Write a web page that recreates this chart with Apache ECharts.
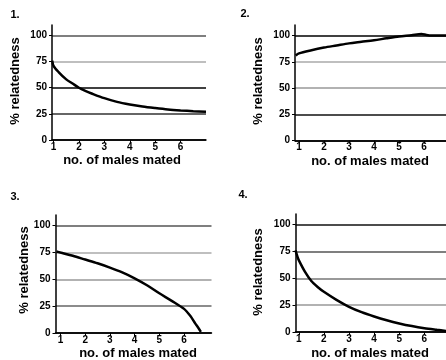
<!DOCTYPE html>
<html>
<head>
<meta charset="utf-8">
<script src="https://cdn.jsdelivr.net/npm/echarts@6/dist/echarts.min.js"></script>
<style>
  html, body { margin: 0; padding: 0; background: #fff; }
  #chart { width: 446px; height: 360px; }
</style>
</head>
<body>
<div id="chart"></div>
<script>
// tick labels
const xTicks = [1, 2, 3, 4, 5, 6];
const yTicks = [0, 25, 50, 75, 100];
const panelTitles = ['1.', '2.', '3.', '4.'];

// curve 1: falls towards 25
const curve1X = [0.95, 1.0, 1.2, 1.5, 1.75, 2, 2.25, 2.5, 3, 3.5, 4, 4.5, 5, 5.5, 6, 6.5, 7];
const curve1Y = [76, 71, 65, 58, 54, 50, 47, 44.5, 40, 36.5, 34, 32, 30.5, 29.2, 28.3, 27.6, 27];
// curve 2: rises to 100
const curve2X = [0.87, 1, 1.5, 2, 2.5, 3, 3.5, 4, 4.5, 5, 5.5, 5.9, 6.1, 6.3, 6.88];
const curve2Y = [81, 83, 86, 88.5, 90.5, 92.5, 94, 95.5, 97.3, 99, 100.3, 101.5, 100.5, 100, 100];
// curve 3: drops to 0 near 6.7
const curve3X = [0.84, 1, 1.5, 2, 2.5, 3, 3.5, 4, 4.5, 5, 5.5, 6, 6.25, 6.45, 6.6, 6.68];
const curve3Y = [76, 75, 72, 68.5, 65, 61, 56.5, 51, 44.5, 37, 30, 22.5, 16, 9, 4, 1];
// curve 4: falls towards 0
const curve4X = [0.87, 0.95, 1, 1.25, 1.5, 1.75, 2, 2.5, 3, 3.5, 4, 4.5, 5, 5.5, 6, 6.5, 6.86];
const curve4Y = [76, 70, 67, 56, 47.5, 42, 37.5, 30, 23.5, 18.5, 14.5, 11, 8, 5.5, 3.5, 2, 1];

const zip = (xs, ys) => xs.map((x, i) => [x, ys[i]]);

const font = 'Liberation Sans, Arial, sans-serif';

// grid boxes and x ranges per panel
const panels = [
  { grid: { left: 52, top: 25, width: 154, height: 115 }, min: 0.94, max: 7.0,
    data: zip(curve1X, curve1Y), gridColors: ['#000', '#333', '#000', '#aaa', '#555', 'transparent'] },
  { grid: { left: 295, top: 25, width: 151, height: 115.5 }, min: 0.84, max: 6.88,
    data: zip(curve2X, curve2Y), gridColors: ['#000', '#111', '#999', '#aaa', '#000', 'transparent'] },
  { grid: { left: 55.5, top: 215, width: 156, height: 118 }, min: 0.8, max: 7.11,
    data: zip(curve3X, curve3Y), gridColors: ['#000', '#666', '#999', '#aaa', '#555', 'transparent'] },
  { grid: { left: 295.5, top: 214, width: 150.5, height: 118 }, min: 0.87, max: 6.86,
    data: zip(curve4X, curve4Y), gridColors: ['#000', '#999', '#777', '#555', '#111', 'transparent'] }
];

const chart = echarts.init(document.getElementById('chart'));

const textStyle = { fontFamily: font, fontWeight: 'bold', fill: '#000' };

// panel numbers and axis names
const titlePos = [[15, 15], [245, 14], [15, 197], [243, 195]];
const yNamePos = [[15, 81], [258, 81], [24, 270], [258, 272]];
const xNamePos = [[122, 160], [370, 161], [138, 353], [370, 353]];

const graphic = [];
panelTitles.forEach((t, i) => {
  graphic.push({ type: 'text', x: titlePos[i][0], y: titlePos[i][1],
    style: Object.assign({ text: t, fontSize: 11, align: 'center', verticalAlign: 'middle' }, textStyle) });
  graphic.push({ type: 'text', x: yNamePos[i][0], y: yNamePos[i][1], rotation: Math.PI / 2,
    style: Object.assign({ text: '% relatedness', fontSize: 13, align: 'center', verticalAlign: 'middle' }, textStyle) });
  graphic.push({ type: 'text', x: xNamePos[i][0], y: xNamePos[i][1],
    style: Object.assign({ text: 'no. of males mated', fontSize: 13, align: 'center', verticalAlign: 'middle' }, textStyle) });
});

const option = {
  animation: false,
  backgroundColor: '#fff',
  grid: panels.map(p => p.grid),
  xAxis: panels.map((p, i) => ({
    type: 'value',
    gridIndex: i,
    min: p.min,
    max: p.max,
    axisLine: { lineStyle: { color: '#000', width: 1.5 } },
    axisTick: { length: 3, customValues: xTicks, lineStyle: { color: '#000' } },
    axisLabel: { customValues: xTicks, margin: 2, fontSize: 10, fontWeight: 'bold', fontFamily: font, color: '#000' },
    splitLine: { show: false }
  })),
  yAxis: panels.map((p, i) => ({
    type: 'value',
    gridIndex: i,
    min: 0,
    max: 110,
    interval: 25,
    axisLine: { show: true, lineStyle: { color: '#000', width: 1.5 } },
    axisTick: { show: true, length: 3, customValues: yTicks, lineStyle: { color: '#000' } },
    axisLabel: { customValues: yTicks, margin: 5, fontSize: 10, fontWeight: 'bold', fontFamily: font, color: '#000' },
    splitLine: { show: true, lineStyle: { color: p.gridColors, width: 1.5 } }
  })),
  series: panels.map((p, i) => ({
    type: 'line',
    xAxisIndex: i,
    yAxisIndex: i,
    data: p.data,
    smooth: 0.3,
    showSymbol: false,
    lineStyle: { color: '#000', width: 2.5 }
  })),
  graphic: graphic
};

chart.setOption(option);
</script>
</body>
</html>
